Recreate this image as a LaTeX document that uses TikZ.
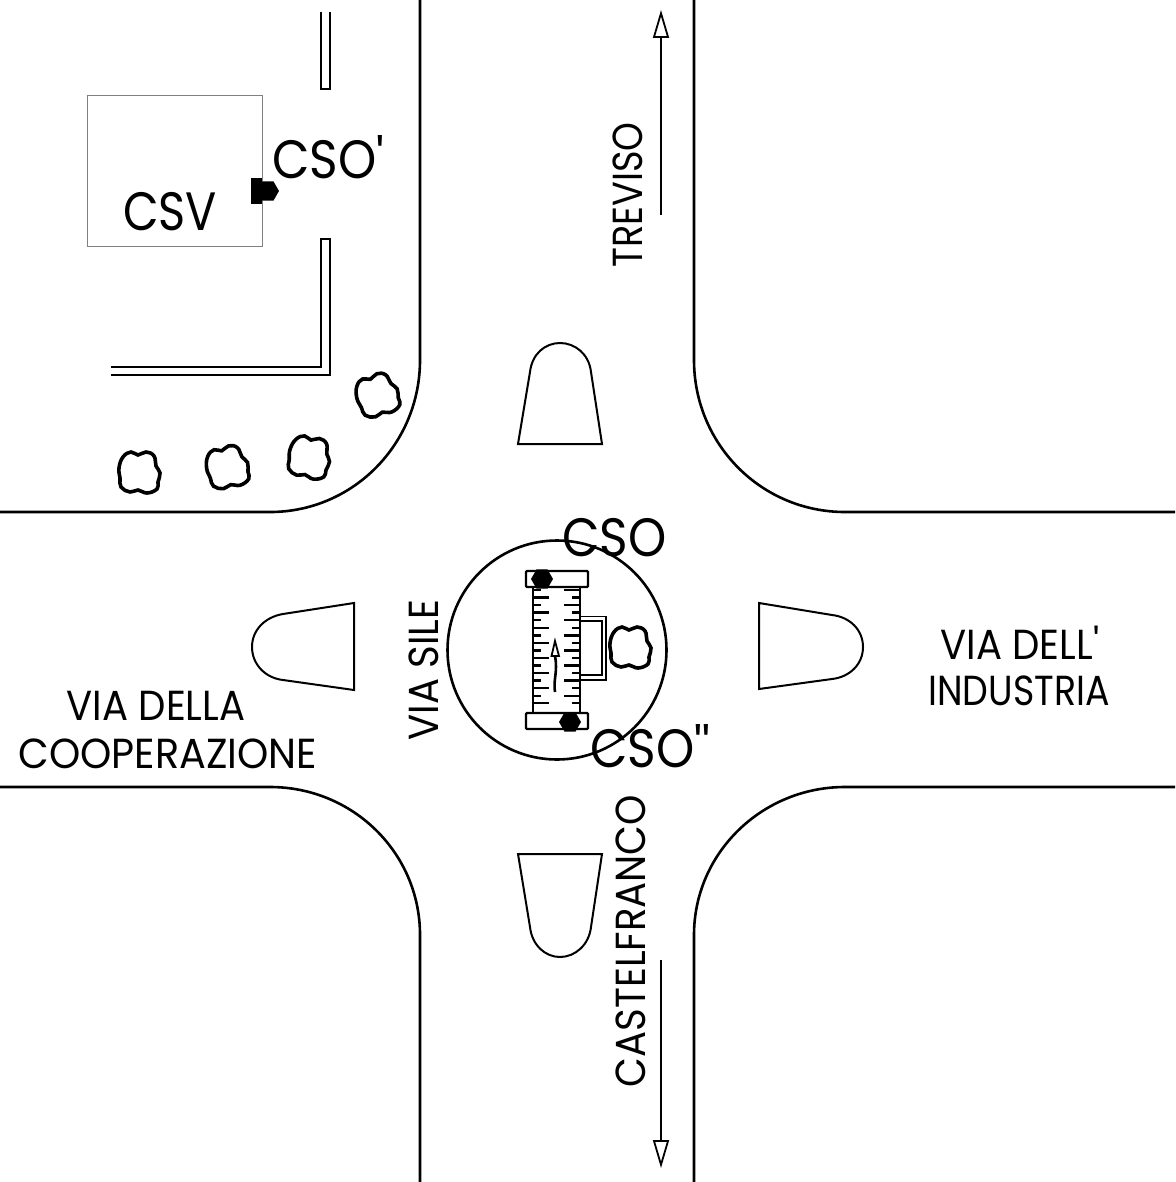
\documentclass[tikz,border=0pt]{standalone}
\usepackage{fontspec}
\setmainfont{Poppins}[Ligatures=TeXOff]
\usetikzlibrary{arrows.meta, shapes.geometric}

\tikzset{
  road/.style={line width=1.3pt},
  island/.style={line width=1pt},
  wall/.style={line width=1.1pt},
  flow/.style={line width=0.9pt, -{Triangle[open, length=14pt, width=8pt]}},
  bigtext/.style={inner sep=0pt, font=\fontsize{27}{30}\selectfont, xscale=0.9},
  roadtext/.style={inner sep=0pt, font=\fontsize{21}{24}\selectfont, xscale=0.92},
  camera/.style={regular polygon, regular polygon sides=6, fill=black, inner sep=0pt, minimum size=11pt},
  pics/bush/.style={code={
    \draw[line width=1.8pt]
      plot[smooth cycle, tension=0.75] coordinates {
        (-16,-15) (-8,-20) (-1,-17) (7,-20) (15,-16) (17,-6) (21,1) (19,10)
        (18,17) (8,21) (-1,18) (-9,20) (-18,15) (-19,6) (-20,-4)};
  }},
}

\begin{document}
\begin{tikzpicture}[x=0.5pt, y=-0.5pt]
  \useasboundingbox (0,0) rectangle (1175,1182);

  % roads
  \draw[road] (420,0) -- (420,360) .. controls (420,444) and (353,512) .. (270,512) -- (0,512);
  \draw[road] (694,0) -- (694,360) .. controls (694,444) and (761,512) .. (845,512) -- (1175,512);
  \draw[road] (0,787) -- (270,787) .. controls (353,787) and (420,853) .. (420,935) -- (420,1182);
  \draw[road] (1175,787) -- (845,787) .. controls (762,787) and (694,853) .. (694,935) -- (694,1182);

  % islands
  \draw[island] (518,444) -- (602,444) -- (591,372) .. controls (589,354) and (575,343) .. (560,343)
    .. controls (545,343) and (532,354) .. (530,372) -- cycle;
  \draw[island] (518,854) -- (602,854) -- (591,927) .. controls (589,945) and (575,957) .. (560,957)
    .. controls (545,957) and (532,945) .. (530,927) -- cycle;
  \draw[island] (354,603) -- (354,690) -- (283,680) .. controls (265,678) and (252,664) .. (252,647)
    .. controls (252,630) and (265,617) .. (283,614) -- cycle;
  \draw[island] (759,603) -- (759,689) -- (832,679) .. controls (850,677) and (863,664) .. (863,647)
    .. controls (863,630) and (850,617) .. (832,615) -- cycle;

  % building and walls
  \draw[gray, line width=0.45pt] (87,95) rectangle (262,246);
  \draw[wall] (321,12) -- (321,89) -- (330,89) -- (330,12);
  \draw[wall] (111,367) -- (321,367) -- (321,239) -- (330,239) -- (330,375) -- (111,375);
  \fill (251,178) rectangle (262,204);
  \node[camera] (camtop) at (268,191) {};

  % bushes
  \pic at (139,472) {bush=1};
  \pic[rotate=15] at (227,467) {bush=1};
  \pic[rotate=-10] at (309,457) {bush=1};
  \pic[rotate=20] at (377,395) {bush=1};
  \pic at (630,647) {bush=1};

  % roundabout
  \draw[road] (557,650) circle[radius=109.5];
  \draw[line width=1.4pt] (533,587) rectangle (580,713);
  \draw[line width=1.2pt, rounded corners=0.5pt] (526,571) rectangle (588,587);
  \draw[line width=1.2pt, rounded corners=0.5pt] (526,713) rectangle (588,729);
  \foreach \i in {0,...,15}{
    \pgfmathsetmacro{\ty}{590+\i*7.55}
    \pgfmathtruncatemacro{\odd}{mod(\i,2)}
    \ifnum\odd=1
      \draw[line width=1.2pt] (533,\ty) -- (549,\ty);
      \draw[line width=1.2pt] (572,\ty) -- (580,\ty);
    \else
      \draw[line width=1.2pt] (533,\ty) -- (541,\ty);
      \draw[line width=1.2pt] (564,\ty) -- (580,\ty);
    \fi
  }
  \draw[line width=0.9pt] (580,616.5) -- (606,616.5) -- (606,680) -- (580,680);
  \draw[line width=0.9pt] (580,621) -- (602,621) -- (602,675) -- (580,675);
  \draw[line width=1.3pt] (555,692) .. controls (553,680) and (558,672) .. (555,656);
  \draw[line width=0.9pt] (551.5,656) -- (555,641) -- (559,656) -- cycle;
  \node[camera] (camup) at (542,579) {};
  \node[camera] (camdown) at (570,722) {};

  % direction arrows
  \draw[flow] (661,215) -- (661,10);
  \draw[flow] (661,960) -- (661,1168);

  % labels
  \node[bigtext, xscale=0.95] (csv) at (170,212) {CSV};
  \node[bigtext, anchor=west] (csoa) at (272,157) {CSO'};
  \node[bigtext, anchor=west] (csob) at (562,538) {CSO};
  \node[bigtext, anchor=west] (csoc) at (590,746) {CSO''};
  \node[roadtext] (della) at (156,706) {VIA DELLA};
  \node[roadtext, xscale=1.03] (cooperazione) at (168,754) {COOPERAZIONE};
  \node[roadtext] (dell) at (1020,643) {VIA DELL'};
  \node[roadtext, xscale=0.94] (industria) at (1019,691) {INDUSTRIA};
  \node[rotate=90, roadtext] (sile) at (424,670) {VIA SILE};
  \node[rotate=90, roadtext, xscale=0.95] (treviso) at (628,195) {TREVISO};
  \node[rotate=90, roadtext] (castelfranco) at (631,941) {CASTELFRANCO};
\end{tikzpicture}
\end{document}
